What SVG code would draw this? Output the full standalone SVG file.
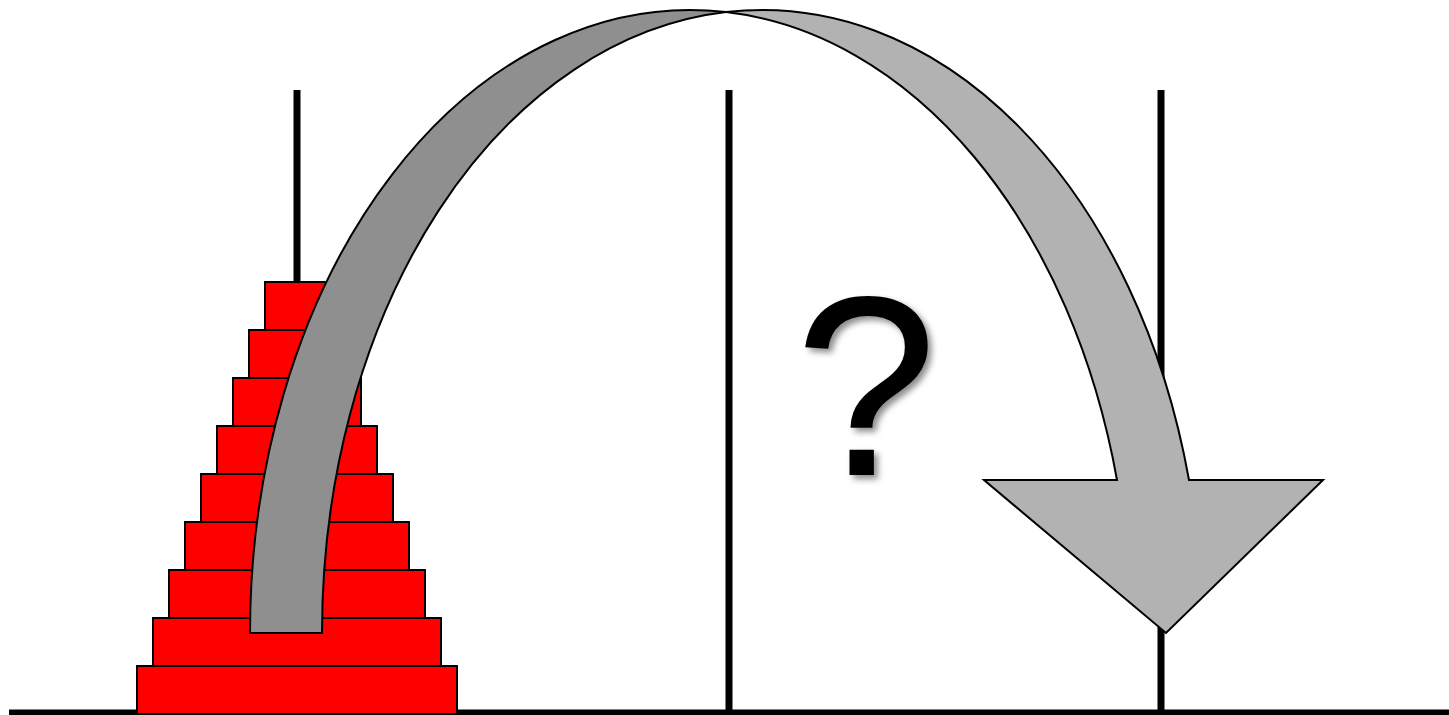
<svg xmlns="http://www.w3.org/2000/svg" width="1449" height="715" viewBox="0 0 1449 715">
  <style>
    .peg { fill: #000000; }
    .disk { fill: #ff0000; stroke: #000000; stroke-width: 2; }
    .band-back { fill: #8f8f8f; stroke: #000000; stroke-width: 2; stroke-linejoin: miter; }
    .band-front { fill: #b2b2b2; stroke: #000000; stroke-width: 2; stroke-linejoin: miter; }
    .qmark { font-family: "Liberation Sans", Arial, sans-serif; font-size: 256px; fill: #000000; }
  </style>
  <defs>
    <filter id="shadow" x="-20%" y="-20%" width="150%" height="150%">
      <feDropShadow dx="4" dy="4" stdDeviation="3" flood-color="#000000" flood-opacity="0.45"/>
    </filter>
  </defs>
  <rect width="1449" height="715" fill="#ffffff"/>

  <g id="base">
    <rect x="9" y="709.5" width="1440" height="6" fill="#000000"/>
  </g>

  <g id="pegs">
    <rect id="peg-a" class="peg" x="293.5" y="90" width="7" height="622"/>
    <rect id="peg-b" class="peg" x="725.5" y="90" width="7" height="622"/>
    <rect id="peg-c" class="peg" x="1157.5" y="90" width="7" height="622"/>
  </g>

  <g id="disks">
    <rect id="disk-1" class="disk" x="265" y="282" width="64" height="48"/>
    <rect id="disk-2" class="disk" x="249" y="330" width="96" height="48"/>
    <rect id="disk-3" class="disk" x="233" y="378" width="128" height="48"/>
    <rect id="disk-4" class="disk" x="217" y="426" width="160" height="48"/>
    <rect id="disk-5" class="disk" x="201" y="474" width="192" height="48"/>
    <rect id="disk-6" class="disk" x="185" y="522" width="224" height="48"/>
    <rect id="disk-7" class="disk" x="169" y="570" width="256" height="48"/>
    <rect id="disk-8" class="disk" x="153" y="618" width="288" height="48"/>
    <rect id="disk-9" class="disk" x="137" y="666" width="320" height="48"/>
  </g>

  <g id="connectors">
    <path id="arrow-back" class="band-back" d="M 250 633 A 440 623 0 0 1 726 12.1 A 440 623 0 0 0 322 633 Z"/>
    <path id="arrow-front" class="band-front" d="M 726 12.1 A 440 623 0 0 1 1189 480 L 1323 480 L 1166 633 L 984 480 L 1117 480 A 440 623 0 0 0 726 12.1 Z"/>
  </g>

  <g id="question">
    <text class="qmark" x="866" y="475" text-anchor="middle" filter="url(#shadow)">?</text>
  </g>
</svg>
